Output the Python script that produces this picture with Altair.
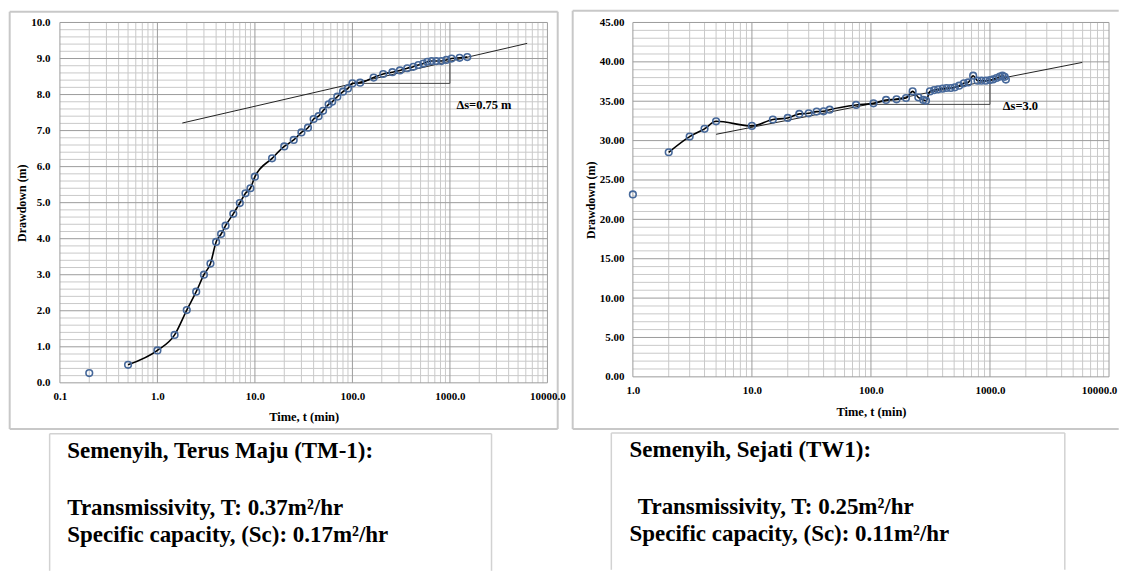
import altair as alt
import pandas as pd

FONT = "Liberation Serif"

# ---------------- Semenyih, Terus Maju (TM-1) ----------------
tm1_time = [0.2, 0.5, 1.0, 1.5, 2.0, 2.5, 3.0, 3.5, 4.0, 4.5,
            5.0, 6.0, 7.0, 8.0, 9.0, 10.0, 15.0, 20.0, 25.0, 30.0,
            35.0, 40.0, 45.0, 50.0, 57.0, 62.0, 70.0, 80.0, 90.0, 100.0,
            120.0, 165.0, 207.0, 257.0, 307.0, 365.0, 421.0, 474.0, 534.0, 586.0,
            649.0, 725.0, 816.0, 918.0, 1040.0, 1256.0, 1506.0]
tm1_drawdown = [0.27, 0.50, 0.90, 1.33, 2.02, 2.53, 3.00, 3.31, 3.91, 4.13,
                4.36, 4.69, 4.99, 5.26, 5.40, 5.72, 6.23, 6.56, 6.74, 6.95,
                7.08, 7.32, 7.40, 7.55, 7.73, 7.80, 7.94, 8.08, 8.17, 8.31,
                8.33, 8.47, 8.57, 8.62, 8.67, 8.73, 8.77, 8.82, 8.86, 8.91,
                8.93, 8.93, 8.93, 8.96, 9.00, 9.02, 9.04]
tm1_fit_time = [1.8, 6200.0]
tm1_fit_drawdown = [7.21, 9.42]
tm1_delta_time = [100.0, 1000.0, 1000.0]
tm1_delta_drawdown = [8.31, 8.31, 9.0]
tm1_delta_label = ["Δs=0.75 m"]
tm1_delta_label_time = [1165.0]
tm1_delta_label_drawdown = [7.71]
tm1_info = ["Semenyih, Terus Maju (TM-1):",
            "Transmissivity, T: 0.37m²/hr",
            "Specific capacity, (Sc): 0.17m²/hr"]
tm1_x_ticks = [0.1, 1.0, 10.0, 100.0, 1000.0, 10000.0]
tm1_y_ticks = [0, 1, 2, 3, 4, 5, 6, 7, 8, 9, 10]

# ---------------- Semenyih, Sejati (TW1) ----------------
tw1_time = [1.0, 2.0, 3.0, 4.0, 5.0, 10.0, 15.0, 20.0, 25.0, 30.0,
            35.0, 40.0, 45.0, 75.0, 105.0, 134.0, 164.0, 197.0, 224.0, 250.0,
            275.0, 290.0, 313.0, 340.0, 367.0, 400.0, 432.0, 469.0, 507.0, 551.0,
            603.0, 656.0, 722.0, 786.0, 849.0, 923.0, 1000.0, 1062.0, 1135.0, 1209.0,
            1273.0, 1330.0, 1360.0]
tw1_drawdown = [23.16, 28.52, 30.51, 31.49, 32.45, 31.87, 32.67, 32.88, 33.39, 33.47,
                33.68, 33.72, 33.93, 34.53, 34.73, 35.16, 35.24, 35.41, 36.25, 35.49,
                35.16, 35.07, 36.25, 36.42, 36.51, 36.60, 36.68, 36.68, 36.76, 36.97,
                37.27, 37.39, 38.24, 37.61, 37.61, 37.61, 37.69, 37.77, 37.95, 38.12,
                38.24, 38.10, 37.75]
tw1_fit_time = [5.0, 5960.0]
tw1_fit_drawdown = [30.8, 39.93]
tw1_delta_time = [95.0, 1000.0, 1000.0]
tw1_delta_drawdown = [34.6, 34.6, 37.63]
tw1_delta_label = ["Δs=3.0"]
tw1_delta_label_time = [1280.0]
tw1_delta_label_drawdown = [34.4]
tw1_info = ["Semenyih, Sejati (TW1):",
            "Transmissivity, T: 0.25m²/hr",
            "Specific capacity, (Sc): 0.11m²/hr"]
tw1_x_ticks = [1.0, 10.0, 100.0, 1000.0, 10000.0]
tw1_y_ticks = [0, 5, 10, 15, 20, 25, 30, 35, 40, 45]

MAJOR = "#9c9c9c"
MINOR = "#c9c9c9"
FRAME = "#c8c8c8"
BOX = "#d2d2d2"
POINT = "#46689a"


def one():
    return alt.Data(values=[{}])


def rule(x0, x1, y0, y1, color, w):
    return alt.Chart(one()).mark_rule(color=color, strokeWidth=w).encode(
        x=alt.value(x0), x2=alt.value(x1), y=alt.value(y0), y2=alt.value(y1))


def ptext(txt, x, y, size):
    return alt.Chart(pd.DataFrame({"label": [txt]})).mark_text(
        align="left", baseline="alphabetic", font=FONT, fontSize=size,
        fontWeight="bold", color="black").encode(
        x=alt.value(x), y=alt.value(y), text="label:N")


def panel(times, drawdown, fit_t, fit_s, tri_t, tri_s, dl, dl_t, dl_s, info,
          x_ticks, y_ticks, x_dom, y_dom, x_minor, y_minor, y_fmt, g):
    W, H = g["W"], g["H"]
    xs = alt.Scale(type="log", domain=x_dom, nice=False)
    ys = alt.Scale(domain=y_dom, nice=False, zero=False)
    xaxis = alt.Axis(
        values=x_ticks, format=".1f", grid=False, domain=False, ticks=False,
        labelFlush=False, labelOverlap=False, labelPadding=8,
        labelOffset={"condition": {"test": "datum.value >= 10000",
                                   "value": g["last_label_offset"]}, "value": 0},
        labelFont=FONT, labelFontSize=11, labelFontWeight="bold", labelColor="black",
        title="Time, t (min)", titleFont=FONT, titleFontSize=12.5,
        titleFontWeight="bold", titleColor="black",
        titleY=g["xtitle_y"], titleBaseline="alphabetic", zindex=1)
    yaxis = alt.Axis(
        values=y_ticks, format=y_fmt, grid=False, domain=False, ticks=False,
        labelFlush=False, labelOverlap=False, labelPadding=g["ylab_pad"],
        labelFont=FONT, labelFontSize=11, labelFontWeight="bold", labelColor="black",
        title="Drawdown (m)", titleFont=FONT, titleFontSize=12,
        titleFontWeight="bold", titleColor="black",
        titleX=g["ytitle_x"], titleBaseline="alphabetic", zindex=1)

    def X(f):
        return alt.X(f, scale=xs, axis=xaxis)

    def Y(f):
        return alt.Y(f, scale=ys, axis=yaxis)

    def gx(vals, color):
        return alt.Chart(pd.DataFrame({"v": vals})).mark_rule(color=color, strokeWidth=1).encode(
            x=X("v:Q"), y=alt.value(0), y2=alt.value(H))

    def gy(vals, color):
        return alt.Chart(pd.DataFrame({"v": vals})).mark_rule(color=color, strokeWidth=1).encode(
            y=Y("v:Q"), x=alt.value(0), x2=alt.value(W))

    layers = []
    bx0, bx1, by0, by1 = g["bg"]
    layers.append(alt.Chart(one()).mark_rect(color="white").encode(
        x=alt.value(bx0), x2=alt.value(bx1), y=alt.value(by0), y2=alt.value(by1)))
    for (a, b, c, d) in g["frame"]:
        layers.append(rule(a, b, c, d, FRAME, 2))
    for (a, b, c, d) in g["box"]:
        layers.append(rule(a, b, c, d, BOX, 1.5))

    layers.append(gx(x_minor, MINOR))
    layers.append(gy(y_minor, MINOR))
    layers.append(gx(x_ticks, MAJOR))
    layers.append(gy(y_ticks, MAJOR))

    fit_df = pd.DataFrame({"t": fit_t, "s": fit_s})
    layers.append(alt.Chart(fit_df).mark_line(color="#222222", strokeWidth=1).encode(
        x=X("t:Q"), y=Y("s:Q")))

    tri_df = pd.DataFrame({"t": tri_t, "s": tri_s, "i": list(range(len(tri_t)))})
    layers.append(alt.Chart(tri_df).mark_line(color="#444444", strokeWidth=1).encode(
        x=X("t:Q"), y=Y("s:Q"), order=alt.Order("i:Q")))

    line_df = pd.DataFrame({"t": times[1:], "s": drawdown[1:]})
    layers.append(alt.Chart(line_df).mark_line(color="black", strokeWidth=1.6,
                                               interpolate="monotone").encode(
        x=X("t:Q"), y=Y("s:Q")))

    pts_df = pd.DataFrame({"t": times, "s": drawdown})
    layers.append(alt.Chart(pts_df).mark_point(shape="circle", filled=False, color=POINT,
                                               strokeWidth=1.6, size=44, opacity=1).encode(
        x=X("t:Q"), y=Y("s:Q")))

    dl_df = pd.DataFrame({"t": dl_t, "s": dl_s, "label": dl})
    layers.append(alt.Chart(dl_df).mark_text(align="left", baseline="middle", font=FONT,
                                             fontSize=12.5, fontWeight="bold",
                                             color="black").encode(
        x=X("t:Q"), y=Y("s:Q"), text="label:N"))

    for txt, (x, y) in zip(info, g["info_pos"]):
        layers.append(ptext(txt, x, y, g["info_size"]))

    return alt.layer(*layers).properties(width=W, height=H)


# geometry relative to each plot origin (pixels)
g_left = {
    "W": 488.4, "H": 361,
    "bg": (-51.3, 507.7, -12.7, 549.3),
    "frame": [(-50.3, 498.7, -10.7, -10.7), (-50.3, -50.3, -10.7, 407.3),
              (-50.3, 498.7, 407.3, 407.3), (498.7, 498.7, -10.7, 407.3)],
    "box": [(-10.3, 432.4, 412.0, 412.0), (-10.3, -10.3, 412.0, 549.3),
            (432.4, 432.4, 412.0, 549.3)],
    "xtitle_y": 38, "ytitle_x": -34, "ylab_pad": 10, "last_label_offset": 0,
    "info_pos": [(7.4, 436.6), (7.4, 493.3), (7.4, 520.8)],
    "info_size": 23,
}
g_right = {
    "W": 477, "H": 355,
    "bg": (-65.3, 486.7, -13.7, 548.3),
    "frame": [(-60.3, 486.7, -11.7, -11.7), (-60.3, -60.3, -11.7, 407.3),
              (-60.3, 486.7, 407.3, 407.3)],
    "box": [(-21.6, 432.7, 411.3, 411.3), (-21.6, -21.6, 411.3, 548.3),
            (432.7, 432.7, 411.3, 548.3)],
    "xtitle_y": 38.5, "ytitle_x": -38, "ylab_pad": 9, "last_label_offset": -10,
    "info_pos": [(-3.3, 435.3), (5.0, 492.3), (-3.3, 519.3)],
    "info_size": 23,
}

tm1_x_minor = [m * 10.0 ** k for k in range(-1, 4) for m in range(2, 10)]
tm1_y_minor = [i * 0.2 for i in range(51) if i % 5]
tw1_x_minor = [m * 10.0 ** k for k in range(0, 4) for m in range(2, 10)]
tw1_y_minor = [i for i in range(46) if i % 5]

left = panel(tm1_time, tm1_drawdown, tm1_fit_time, tm1_fit_drawdown,
             tm1_delta_time, tm1_delta_drawdown, tm1_delta_label,
             tm1_delta_label_time, tm1_delta_label_drawdown, tm1_info,
             tm1_x_ticks, tm1_y_ticks, [0.1, 10000.0], [0, 10],
             tm1_x_minor, tm1_y_minor, ".1f", g_left)
right = panel(tw1_time, tw1_drawdown, tw1_fit_time, tw1_fit_drawdown,
              tw1_delta_time, tw1_delta_drawdown, tw1_delta_label,
              tw1_delta_label_time, tw1_delta_label_drawdown, tw1_info,
              tw1_x_ticks, tw1_y_ticks, [1.0, 10000.0], [0, 45],
              tw1_x_minor, tw1_y_minor, ".2f", g_right)

chart = alt.hconcat(left, right, spacing=0).properties(
    padding=0, background="white").configure_view(stroke=None)

chart.save("out.html", embed_options={"renderer": "svg", "actions": False})
